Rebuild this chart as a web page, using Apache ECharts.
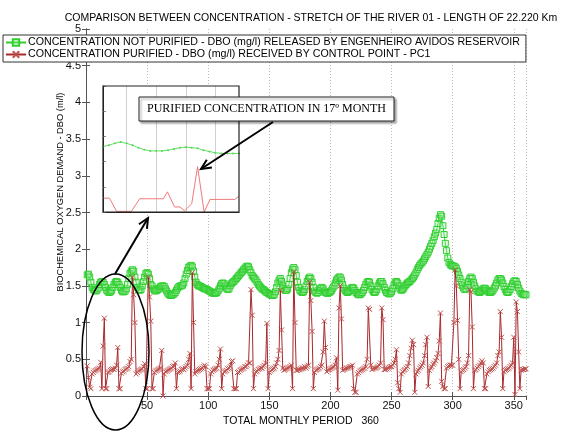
<!DOCTYPE html>
<html><head><meta charset="utf-8">
<script src="https://cdn.jsdelivr.net/npm/echarts/dist/echarts.min.js"></script>
<style>html,body{margin:0;padding:0;background:#fff}#c{width:574px;height:439px}</style>
</head><body><div id="c"></div>
<script>
// ---------- DATA ----------
const titleText = 'COMPARISON BETWEEN CONCENTRATION - STRETCH OF THE RIVER 01 - LENGTH OF 22.220 Km';
const seriesNames = [
  'CONCENTRATION NOT PURIFIED - DBO (mg/l) RELEASED BY ENGENHEIRO AVIDOS RESERVOIR',
  'CONCENTRATION PURIFIED - DBO (mg/l) RECEIVED BY CONTROL POINT - PC1'
];
const xAxisName = 'TOTAL MONTHLY PERIOD   360';
const yAxisName = 'BIOCHEMICAL OXYGEN DEMAND - DBO (m/l)';
const calloutText = 'PURIFIED CONCENTRATION IN 17\u00BA MONTH';
const xTickStep = 50, xMax = 360;
const yTickStep = 0.5, yMax = 5;

const months = Array.from({length: 360}, (_, i) => i + 1);

const notPurified = [
1.65,1.66,1.62,1.55,1.48,1.45,1.44,1.43,1.44,1.47,
1.52,1.55,1.56,1.55,1.52,1.48,1.44,1.42,1.41,1.42,
1.44,1.48,1.52,1.55,1.56,1.55,1.52,1.48,1.44,1.42,
1.42,1.43,1.46,1.52,1.60,1.67,1.70,1.72,1.70,1.62,
1.55,1.48,1.45,1.44,1.45,1.50,1.56,1.62,1.67,1.68,
1.66,1.60,1.52,1.50,1.46,1.44,1.43,1.44,1.45,1.47,
1.49,1.50,1.50,1.49,1.46,1.43,1.40,1.38,1.37,1.37,
1.38,1.39,1.41,1.44,1.47,1.49,1.50,1.50,1.51,1.54,
1.60,1.66,1.71,1.75,1.77,1.78,1.76,1.70,1.62,1.55,
1.52,1.50,1.50,1.49,1.48,1.47,1.46,1.46,1.45,1.44,
1.43,1.42,1.41,1.40,1.40,1.40,1.41,1.43,1.46,1.50,
1.53,1.54,1.53,1.50,1.47,1.45,1.46,1.50,1.53,1.55,
1.56,1.58,1.60,1.62,1.64,1.66,1.68,1.70,1.72,1.74,
1.76,1.77,1.76,1.72,1.68,1.64,1.62,1.60,1.58,1.55,
1.52,1.50,1.48,1.46,1.45,1.44,1.42,1.41,1.40,1.39,
1.38,1.37,1.37,1.38,1.42,1.48,1.54,1.58,1.60,1.56,
1.50,1.46,1.44,1.44,1.46,1.52,1.60,1.68,1.73,1.75,
1.72,1.64,1.55,1.48,1.44,1.42,1.41,1.42,1.45,1.50,
1.56,1.60,1.62,1.60,1.55,1.48,1.43,1.41,1.40,1.41,
1.44,1.47,1.48,1.46,1.43,1.41,1.40,1.40,1.41,1.42,
1.44,1.47,1.50,1.54,1.58,1.60,1.62,1.62,1.58,1.52,
1.47,1.44,1.42,1.41,1.42,1.44,1.47,1.48,1.47,1.44,
1.41,1.39,1.38,1.38,1.39,1.41,1.44,1.48,1.52,1.55,
1.56,1.55,1.50,1.45,1.42,1.41,1.42,1.45,1.50,1.54,
1.56,1.56,1.53,1.48,1.44,1.41,1.40,1.39,1.40,1.42,
1.46,1.51,1.55,1.56,1.54,1.50,1.46,1.44,1.45,1.47,
1.50,1.52,1.54,1.55,1.56,1.58,1.60,1.62,1.65,1.68,
1.72,1.75,1.78,1.80,1.82,1.84,1.87,1.90,1.93,1.96,
2.00,2.04,2.08,2.12,2.17,2.22,2.27,2.35,2.42,2.47,
2.45,2.32,2.20,2.08,1.98,1.88,1.82,1.79,1.78,1.77,
1.77,1.76,1.74,1.70,1.65,1.60,1.55,1.50,1.47,1.45,
1.46,1.50,1.56,1.60,1.62,1.60,1.55,1.50,1.46,1.43,
1.42,1.41,1.42,1.44,1.46,1.47,1.46,1.44,1.42,1.41,
1.41,1.42,1.44,1.47,1.50,1.54,1.58,1.60,1.60,1.58,
1.54,1.49,1.45,1.42,1.41,1.42,1.45,1.49,1.53,1.56,
1.57,1.56,1.52,1.47,1.43,1.40,1.39,1.38,1.38,1.38
];

const purified = [
0.41,0.25,0.12,0.10,0.30,0.32,0.34,0.35,0.36,0.37,
0.38,0.46,0.10,0.68,1.06,0.10,0.10,0.32,0.33,0.35,
0.36,0.37,0.36,0.38,0.42,0.66,0.10,0.10,0.31,0.33,
0.34,0.36,0.37,0.38,0.40,0.47,0.50,1.62,1.38,1.00,
0.30,0.32,0.34,0.35,0.36,0.37,0.40,0.44,0.10,0.10,
1.62,1.35,1.02,0.10,0.10,0.32,0.34,0.35,0.36,0.37,
0.38,0.62,0.00,0.30,0.33,0.34,0.35,0.36,0.37,0.38,
0.40,0.41,0.45,0.10,0.32,0.33,0.34,0.36,0.37,0.36,
0.38,0.40,0.42,0.50,0.58,0.10,1.68,1.00,0.30,0.33,
0.34,0.35,0.36,0.37,0.38,0.40,0.42,0.40,0.10,0.10,
0.10,0.30,0.33,0.35,0.36,0.37,0.38,0.42,0.50,0.64,
0.10,0.30,0.33,0.34,0.35,0.37,0.38,0.40,0.47,0.48,
0.10,0.10,0.10,0.32,0.33,0.35,0.36,0.37,0.38,0.40,
0.40,0.42,0.45,0.45,1.45,1.10,0.10,0.30,0.33,0.34,
0.36,0.37,0.38,0.38,0.40,0.42,0.45,0.99,0.10,0.32,
0.34,0.36,0.37,0.38,0.40,0.45,0.50,0.62,1.44,0.90,
0.38,0.35,0.36,0.37,0.38,0.39,0.40,0.42,0.10,1.69,
1.00,0.35,0.35,0.36,0.36,0.37,0.38,0.38,0.40,0.38,
0.40,0.42,1.55,1.30,0.88,0.10,0.32,0.35,0.36,0.37,
0.38,0.40,0.42,0.60,1.02,0.66,0.33,0.35,0.36,0.37,
0.38,0.39,0.40,0.42,0.52,0.08,1.20,1.50,1.05,0.35,
0.36,0.37,0.38,0.38,0.39,0.40,0.40,0.42,0.10,0.05,
0.05,0.30,0.32,0.34,0.35,0.36,0.37,0.38,0.40,0.50,
1.20,1.18,0.42,0.36,0.37,0.38,0.38,0.39,0.40,0.42,
0.45,1.20,1.04,0.36,0.36,0.37,0.38,0.39,0.40,0.40,
0.42,0.45,0.50,0.63,0.18,0.10,0.05,0.30,0.33,0.35,
0.36,0.38,0.40,0.45,0.55,0.65,0.76,0.70,0.05,0.30,
0.33,0.35,0.38,0.40,0.42,0.45,0.55,0.70,0.80,0.13,
0.35,0.38,0.40,0.43,0.45,0.48,0.52,0.58,0.75,1.13,
0.20,0.13,0.10,0.10,0.38,0.40,0.41,0.42,0.42,0.42,
1.00,1.72,1.50,1.03,0.50,0.10,0.33,0.35,0.36,0.38,
0.40,0.45,0.55,1.45,1.42,0.94,0.10,0.35,0.36,0.38,
0.40,0.42,0.45,0.48,0.45,0.10,0.10,0.30,0.33,0.35,
0.36,0.37,0.38,0.40,0.42,0.45,0.55,0.60,1.15,0.80,
0.10,0.33,0.35,0.36,0.37,0.38,0.40,0.42,0.45,0.80,
0.02,1.28,1.15,0.60,0.10,0.35,0.36,0.36,0.37,0.37
];

// inset (zoomed detail) data
const insetGreenX = [0,1,2,3,4,5,6,7,8,9,10,11,12,13,14,15,16,17,18,19,20,21,22,23];
const insetGreen  = [1.04,1.06,1.09,1.11,1.09,1.06,1.02,0.99,0.97,0.97,0.97,0.98,1.00,1.02,1.03,1.02,1.01,0.98,0.96,0.94,0.93,0.93,0.93,0.93];
const insetRedX = [0,1.1,2.3,3.4,4.8,6.2,7.6,9.0,10.2,10.9,12.1,13.0,13.8,15.0,16.0,17.1,18.1,19.5,20.9,22.3,23];
const insetRed  = [0.22,0.22,0.01,0.01,0.01,0.21,0.21,0.21,0.21,0.32,0.08,0.08,0.02,0.13,0.72,0.0,0.2,0.2,0.2,0.2,0.25];
const insetGridX = [4, 9, 14, 19];

// ---------- CHART ----------
const FONT = '"Liberation Sans", Arial, sans-serif';
const GREEN = '#2fcf2f';
const RED = '#a8282c';
const RED_MARK = '#c0504d';
const AX = '#555';
const chart = echarts.init(document.getElementById('c'), null, {renderer: 'canvas'});

const G = {left: 86, top: 29, right: 48, bottom: 43};
const INSET = {x: 103, y: 86, w: 136, h: 126};

function arrow(x1, y1, x2, y2, size) {
  const dx = x2 - x1, dy = y2 - y1, L = Math.hypot(dx, dy);
  const ux = dx / L, uy = dy / L, a = 25 * Math.PI / 180, c = Math.cos(a), s = Math.sin(a);
  const r1 = [ux * c - uy * s, ux * s + uy * c], r2 = [ux * c + uy * s, -ux * s + uy * c];
  return [
    {type: 'line', z: 20, shape: {x1, y1, x2, y2}, style: {stroke: '#000', lineWidth: 2}},
    {type: 'polyline', z: 20, shape: {points: [[x2 - size * r1[0], y2 - size * r1[1]], [x2, y2], [x2 - size * r2[0], y2 - size * r2[1]]]},
     style: {stroke: '#000', lineWidth: 2, fill: null}}
  ];
}

const xSym = 'path://M0,0L10,10M10,0L0,10';

const option = {
  animation: false,
  backgroundColor: '#fff',
  title: {
    text: titleText, left: 306, textAlign: 'center', top: 8,
    textStyle: {fontFamily: FONT, fontSize: 10.5, fontWeight: 'normal', color: '#000'}
  },
  legend: {
    orient: 'vertical', left: 3, top: 35,
    backgroundColor: '#fff', borderColor: '#333', borderWidth: 1,
    padding: [2, 6, 2, 2], itemGap: 1, itemWidth: 20, itemHeight: 8,
    textStyle: {fontFamily: FONT, fontSize: 10.65, color: '#000', padding: [0, 0, 0, -3]},
    data: seriesNames
  },
  grid: [
    {left: G.left, top: G.top, right: G.right, bottom: G.bottom, show: false},
    {left: INSET.x, top: INSET.y, width: INSET.w, height: INSET.h, show: false}
  ],
  xAxis: [
    {type: 'value', gridIndex: 0, min: 0, max: xMax, interval: xTickStep,
     name: xAxisName, nameLocation: 'middle', nameGap: 16,
     nameTextStyle: {fontFamily: FONT, fontSize: 10.5, color: '#000', padding: [0, 10, 0, 0]},
     axisLine: {lineStyle: {color: AX}}, axisTick: {inside: true, length: 4, lineStyle: {color: AX}},
     axisLabel: {fontFamily: FONT, fontSize: 11, color: '#111', margin: 4, showMaxLabel: false,
                 formatter: v => (v === 0 || v === xMax) ? '' : String(v)},
     splitLine: {show: true, lineStyle: {color: '#b8b8b8', type: [1, 2], width: 1}}},
    {type: 'value', gridIndex: 0, position: 'top', min: 0, max: xMax, interval: xTickStep,
     axisLine: {lineStyle: {color: AX}}, axisTick: {inside: true, length: 4, lineStyle: {color: AX}},
     axisLabel: {show: false}, splitLine: {show: false}},
    {type: 'value', gridIndex: 1, min: 0, max: 23, z: 6,
     axisLine: {lineStyle: {color: '#222', width: 1}}, axisTick: {show: false},
     axisLabel: {show: false}, splitLine: {show: false}}
  ],
  yAxis: [
    {type: 'value', gridIndex: 0, min: 0, max: yMax, interval: yTickStep,
     axisLine: {show: true, lineStyle: {color: AX}}, axisTick: {show: true, inside: true, length: 4, lineStyle: {color: AX}},
     axisLabel: {fontFamily: FONT, fontSize: 11, color: '#111', margin: 5},
     splitLine: {show: false}},
    {type: 'value', gridIndex: 0, position: 'right', min: 0, max: yMax, interval: yTickStep,
     axisLine: {show: true, lineStyle: {color: AX}}, axisTick: {show: true, inside: true, length: 4, lineStyle: {color: AX}},
     axisLabel: {show: false}, splitLine: {show: false}},
    {type: 'value', gridIndex: 1, min: 0, max: 2, interval: 0.4, z: 6,
     axisLine: {show: true, lineStyle: {color: '#222'}}, axisTick: {show: true, inside: true, length: 3, lineStyle: {color: '#888'}},
     axisLabel: {show: false}, splitLine: {show: false}}
  ],
  series: [
    {name: seriesNames[0], type: 'line', xAxisIndex: 0, yAxisIndex: 0, z: 3,
     data: months.map((m, i) => [m, notPurified[i]]),
     showAllSymbol: true, symbol: 'rect', symbolSize: 6,
     lineStyle: {color: GREEN, width: 1},
     itemStyle: {color: 'rgba(160,235,160,0.25)', borderColor: GREEN, borderWidth: 1}},
    {name: seriesNames[1], type: 'line', xAxisIndex: 0, yAxisIndex: 0, z: 4,
     data: months.map((m, i) => [m, purified[i]]),
     showAllSymbol: true, symbol: xSym, symbolSize: 5,
     lineStyle: {color: RED, width: 1},
     itemStyle: {color: RED_MARK, borderColor: RED_MARK, borderWidth: 1}},
    {name: 'inset-green', type: 'line', xAxisIndex: 2, yAxisIndex: 2, z: 7,
     data: insetGreenX.map((x, i) => [x, insetGreen[i]]),
     symbol: 'circle', symbolSize: 2, showAllSymbol: true,
     lineStyle: {color: '#66e066', width: 1}, itemStyle: {color: '#55d855'},
     markLine: {silent: true, symbol: 'none', label: {show: false},
                lineStyle: {color: '#d0d0d0', type: 'solid', width: 1},
                data: insetGridX.map(x => ({xAxis: x}))}},
    {name: 'inset-red', type: 'line', xAxisIndex: 2, yAxisIndex: 2, z: 7,
     data: insetRedX.map((x, i) => [x, insetRed[i]]),
     symbol: 'none', lineStyle: {color: '#f07878', width: 1}}
  ],
  graphic: [
    {type: 'rect', z: 5, shape: {x: INSET.x, y: INSET.y, width: INSET.w, height: INSET.h},
     style: {fill: '#fff', stroke: null}},
    {type: 'rect', z: 8, shape: {x: INSET.x, y: INSET.y, width: INSET.w, height: INSET.h},
     style: {fill: null, stroke: '#222', lineWidth: 1.2}},
    {type: 'text', z: 10, x: 60, y: 192, rotation: Math.PI / 2,
     style: {text: yAxisName, font: '9.3px ' + FONT, fill: '#000', textAlign: 'center', textVerticalAlign: 'middle'}},
    {type: 'rect', z: 20, shape: {x: 139, y: 97, width: 255, height: 24},
     style: {fill: '#fff', stroke: '#222', lineWidth: 1, shadowColor: 'rgba(0,0,0,0.35)', shadowOffsetX: 2, shadowOffsetY: 2, shadowBlur: 2}},
    {type: 'text', z: 21, x: 266.5, y: 109,
     style: {text: calloutText, font: '12px "Liberation Serif", "DejaVu Serif", serif', fill: '#000', textAlign: 'center', textVerticalAlign: 'middle'}},
    ...arrow(273, 122, 201, 169, 11),
    ...arrow(115, 274, 148, 218, 11),
    {type: 'ellipse', z: 20, shape: {cx: 115.5, cy: 352, rx: 33.5, ry: 78},
     style: {fill: null, stroke: '#000', lineWidth: 1.5}}
  ]
};
chart.setOption(option);
</script>
</body></html>
